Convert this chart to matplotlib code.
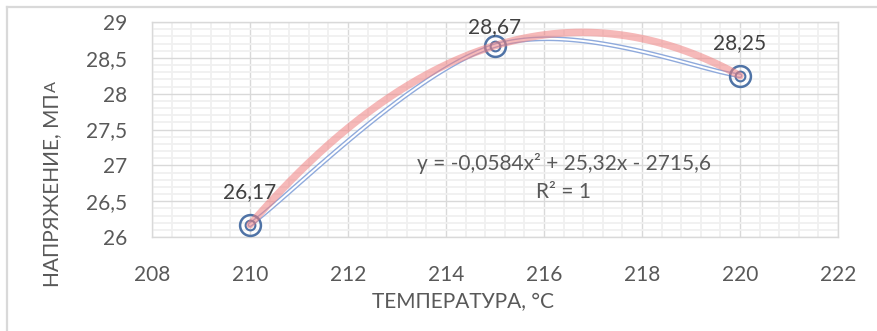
import numpy as np
import matplotlib
matplotlib.use("Agg")
import matplotlib.pyplot as plt
from matplotlib.ticker import MultipleLocator, FuncFormatter

# ---- data ----
temperature = [210, 215, 220]
stress = [26.17, 28.67, 28.25]
x_ticks = [208, 210, 212, 214, 216, 218, 220, 222]
y_ticks = [26, 26.5, 27, 27.5, 28, 28.5, 29]
x_label = "ТЕМПЕРАТУРА, °С"
y_label_main = "НАПРЯЖЕНИЕ, МП"
y_label_small = "А"
eq_text = "y = -0,0584x² + 25,32x - 2715,6"
r2_text = "R² = 1"

plt.rcParams['font.family'] = ['Lato', 'DejaVu Sans']
TXT = '#595959'
FS = 15

W, H = 878, 331
fig = plt.figure(figsize=(W / 100, H / 100), dpi=100)

def fx(px):
    return px / W

def fy(py):
    return 1 - py / H

L, R, T, B = 152, 838, 22, 237
ax = fig.add_axes([fx(L), fy(B), fx(R) - fx(L), fy(T) - fy(B)])

# outer chart frame (left & top visible)
fig.add_artist(plt.Line2D([fx(7), fx(7)], [fy(7), 0], color='#D9D9D9', lw=1.6))
fig.add_artist(plt.Line2D([fx(7), 1], [fy(7), fy(7)], color='#D9D9D9', lw=1.6))

ax.set_xlim(x_ticks[0], x_ticks[-1])
ax.set_ylim(y_ticks[0], y_ticks[-1])
ax.set_xticks(x_ticks)
ax.set_yticks(y_ticks)
ax.xaxis.set_minor_locator(MultipleLocator(0.4))
ax.yaxis.set_minor_locator(MultipleLocator(0.1))

def fmt(v, pos):
    return ('%g' % v).replace('.', ',')

ax.xaxis.set_major_formatter(FuncFormatter(fmt))
ax.yaxis.set_major_formatter(FuncFormatter(fmt))
ax.tick_params(which='both', length=0)
ax.tick_params(axis='x', pad=20, labelsize=FS, labelcolor=TXT)
ax.tick_params(axis='y', pad=18, labelsize=FS, labelcolor=TXT)
ax.grid(which='major', color='#D9D9D9', lw=1.0)
ax.grid(which='minor', color='#F0F0F0', lw=1.3)
ax.set_axisbelow(True)
for s in ax.spines.values():
    s.set_color('#D9D9D9')
    s.set_linewidth(1.0)

# ---- Excel-like smoothed line (Catmull-Rom / Bezier) ----
xs = np.array(temperature, float)
ys = np.array(stress, float)
pts = np.column_stack([xs, ys])
n = len(pts)
curve = []
t = np.linspace(0, 1, 60)[:, None]
for i in range(n - 1):
    p0 = pts[max(i - 1, 0)]
    p1 = pts[i]
    p2 = pts[i + 1]
    p3 = pts[min(i + 2, n - 1)]
    c1 = p1 + (p2 - p0) / 6
    c2 = p2 - (p3 - p1) / 6
    seg = ((1 - t) ** 3) * p1 + 3 * ((1 - t) ** 2) * t * c1 + 3 * (1 - t) * t ** 2 * c2 + t ** 3 * p2
    curve.append(seg)
curve = np.vstack(curve)
ax.plot(curve[:, 0], curve[:, 1], color='#8FAADC', lw=3.4, solid_capstyle='round', zorder=3)
ax.plot(curve[:, 0], curve[:, 1], color='white', lw=1.4, solid_capstyle='round', zorder=3.1)

# markers: double circle
ax.plot(xs, ys, ls='none', marker='o', ms=15, mfc='none', mec='#4F73A6', mew=1.8, zorder=4)
ax.plot(xs, ys, ls='none', marker='o', ms=7, mfc='none', mec='#4F73A6', mew=1.5, zorder=4)

# polynomial trendline
coef = np.polyfit(xs, ys, 2)
tx = np.linspace(xs.min(), xs.max(), 200)
ax.plot(tx, np.polyval(coef, tx), color='#F08080', alpha=0.55, lw=5.4,
        solid_capstyle='round', zorder=5)

# data labels
offsets = [33, 19, 33]
for x, y, off in zip(temperature, stress, offsets):
    ax.annotate(('%.2f' % y).replace('.', ','), (x, y), xytext=(0, off),
                textcoords='offset pixels', ha='center', va='center',
                fontsize=FS, color='#404040', zorder=6)

# trendline equation
ax.text(216.4, 27.03, eq_text, ha='center', va='center', fontsize=FS, color=TXT, zorder=6)
ax.text(216.4, 26.63, r2_text, ha='center', va='center', fontsize=FS, color=TXT, zorder=6)

# axis titles
fig.text(fx(463), fy(302), x_label, ha='center', va='center', fontsize=FS, color=TXT)
yl = fig.text(fx(52), fy(287), y_label_main, rotation=90, rotation_mode='anchor',
              ha='left', va='center', fontsize=FS, color=TXT)
fig.canvas.draw()
bb = yl.get_window_extent()
fig.text(fx(52) + 0.3 / W, (bb.y1 + 1) / H, y_label_small, rotation=90, rotation_mode='anchor',
         ha='left', va='center', fontsize=FS * 0.78, color=TXT)

fig.savefig('out.png', dpi=100, facecolor='white')
